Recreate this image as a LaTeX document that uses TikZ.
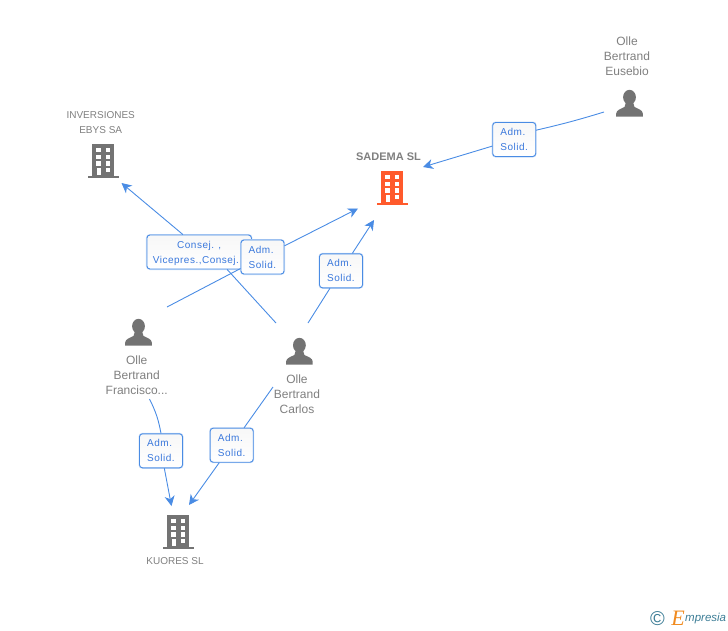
\documentclass[tikz,border=0pt]{standalone}
\usepackage{fontspec}
\setmainfont{Liberation Sans}
\newfontfamily\edgefont[LetterSpace=5]{Liberation Sans}
\newfontfamily\logofont{Liberation Serif}
\usetikzlibrary{arrows.meta}

\definecolor{linkblue}{HTML}{4A8CE4}
\definecolor{textblue}{HTML}{3A78DC}
\definecolor{namegray}{HTML}{7F7F7F}
\definecolor{icongray}{HTML}{737373}
\definecolor{iconorange}{HTML}{FF5A2C}
\definecolor{logoteal}{HTML}{3C7D96}
\definecolor{logoorange}{HTML}{F08A1E}

\tikzset{
  link/.style={linkblue,line width=0.9pt},
  linkto/.style={link,-{Stealth[length=10pt,width=10pt,inset=3pt]}},
  rolebox/.style={draw=linkblue,line width=0.9pt,rounded corners=3pt,top color=black!3,bottom color=white,
    preaction={draw=linkblue!30,line width=2pt},
    minimum width=43pt,minimum height=34pt,inner sep=0pt,align=left,text depth=0pt,text=textblue,
    font=\edgefont\fontsize{10}{15}\selectfont},
  namelabel/.style={align=center,text=namegray,inner sep=0pt,font=\fontsize{12}{15}\selectfont},
  firmlabel/.style={align=center,text=namegray,inner sep=0pt,font=\fontsize{10}{15}\selectfont},
  mainlabel/.style={text=namegray,inner sep=0pt,font=\fontsize{11}{15}\selectfont\bfseries},
  pics/buildingicon/.style={code={
    \fill[#1] (-11,0) rectangle (11,32);
    \fill[#1] (-15.5,32) rectangle (15.5,34);
    \foreach \rowy in {4,10.7,17.3} {
      \fill[white] (-7,\rowy) rectangle (-2.5,\rowy+4.3);
      \fill[white] (3,\rowy) rectangle (7.3,\rowy+4.3);
    }
    \fill[white] (-6,24) rectangle (-2.5,31);
    \fill[white] (3,24) rectangle (7.3,28.3);
  }},
  pics/personicon/.style={code={
    \fill[icongray] (0,7.2) ellipse (6.4 and 7.4);
    \fill[icongray] (-13.3,26.7) -- (-13.3,23.5) .. controls (-13,20) and (-9,19) .. (-5,17)
      -- (-3.5,12) -- (3.5,12) -- (5,17) .. controls (9,19) and (13,20) .. (13.3,23.5) -- (13.3,26.7) -- cycle;
  }}
}

\begin{document}
\begin{tikzpicture}[x=1pt,y=-1pt]
\useasboundingbox (0,0) rectangle (728,630);

% icons
\pic at (392,171) {buildingicon=iconorange};
\pic at (103,144) {buildingicon=icongray};
\pic at (178,515) {buildingicon=icongray};
\pic at (629.5,90) {personicon};
\pic at (138.5,319) {personicon};
\pic at (299.4,338) {personicon};

% names
\node[mainlabel] (sadema) at (388.5,157) {SADEMA SL};
\node[firmlabel] (inversiones) at (100.7,122.5) {INVERSIONES\\EBYS SA};
\node[firmlabel] (kuores) at (175,561) {KUORES SL};
\node[namelabel] (eusebio) at (627,56) {Olle\\Bertrand\\Eusebio};
\node[namelabel] (francisco) at (136.7,375) {Olle\\Bertrand\\Francisco...};
\node[namelabel] (carlos) at (297,394) {Olle\\Bertrand\\Carlos};

% role boxes
\node[rolebox] (admEusebio) at (514.2,139.5) {Adm.\\Solid.};
\node[rolebox,align=center,minimum width=104.5pt] (consej) at (199.2,252) {Consej. ,\\Vicepres.,Consej...};
\node[rolebox] (admFrancisco) at (262.5,257) {Adm.\\Solid.};
\node[rolebox] (admCarlos) at (341,270.8) {Adm.\\Solid.};
\node[rolebox] (admKuoresF) at (161,450.8) {Adm.\\Solid.};
\node[rolebox] (admKuoresC) at (231.7,445.2) {Adm.\\Solid.};

% line ends
\coordinate (eusebioOut) at (604,112);
\coordinate (sademaInE) at (423,167);
\coordinate (sademaInF) at (358,208.5);
\coordinate (sademaInC) at (374,220);
\coordinate (inversionesIn) at (121.5,183);
\coordinate (franciscoOutA) at (167,307);
\coordinate (franciscoOutB) at (149.5,399);
\coordinate (carlosOutA) at (276,323);
\coordinate (carlosOutB) at (308,323);
\coordinate (carlosOutC) at (273,387);
\coordinate (kuoresInF) at (171.5,506);
\coordinate (kuoresInC) at (189,505);

% connectors
\draw[link] (eusebioOut) to[bend left=2] (admEusebio.23);
\draw[linkto] (admEusebio) -- (sademaInE);
\draw[link] (carlosOutA) -- (consej.-32);
\draw[linkto] (consej.133) -- (inversionesIn);
\draw[link] (franciscoOutA) -- (admFrancisco);
\draw[linkto] (admFrancisco) -- (sademaInF);
\draw[link] (carlosOutB) -- (admCarlos);
\draw[linkto] (admCarlos) -- (sademaInC);
\draw[link] (franciscoOutB) to[bend left=8] (admKuoresF.north);
\draw[linkto] (admKuoresF) -- (kuoresInF);
\draw[link] (carlosOutC) -- (admKuoresC);
\draw[linkto] (admKuoresC) -- (kuoresInC);

% logo
\node[text=logoteal,inner sep=0pt,font=\fontsize{20}{20}\selectfont] (logoC) at (657.5,619) {©};
\node[text=logoorange,inner sep=0pt,font=\logofont\itshape\fontsize{22}{22}\selectfont] (logoE) at (678,618) {E};
\node[text=logoteal,inner sep=0pt,anchor=west,font=\itshape\fontsize{11.5}{12}\selectfont] (logoName) at (685,619) {mpresia};
\end{tikzpicture}
\end{document}
